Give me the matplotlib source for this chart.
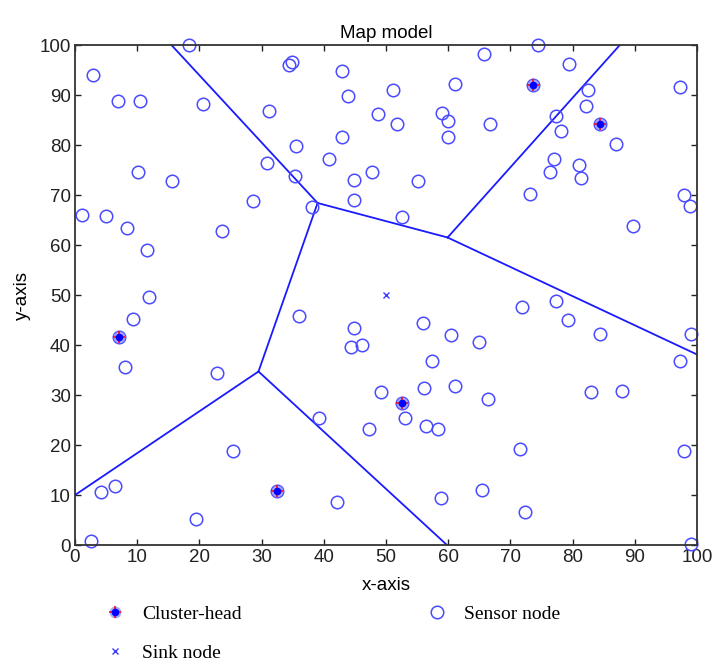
import matplotlib
matplotlib.use("Agg")
import matplotlib.pyplot as plt
from matplotlib import font_manager
from matplotlib.legend_handler import HandlerTuple

# sensor nodes (ordinary)
sensor_x = [2.9, 6.9, 10.5, 18.4, 20.6, 31.2, 34.4, 34.9, 10.1, 15.6, 30.8, 28.6, 1.1, 5.0, 8.4,
            23.6, 11.6, 42.9, 43.9, 51.2, 61.1, 65.7, 48.7, 51.7, 59.0, 60.0, 60.0, 66.7, 35.6, 43.0,
            40.9, 47.7, 44.8, 55.1, 35.4, 44.8, 38.1, 52.6, 74.5, 79.5, 82.5, 82.1, 77.4, 78.1, 86.9,
            97.3, 77.0, 81.1, 76.4, 81.4, 73.1, 97.9, 98.8, 89.7, 11.9, 9.4, 8.0, 22.9, 25.4, 4.1,
            6.4, 19.5, 2.5, 36.0, 44.9, 44.3, 46.2, 55.9, 60.5, 65.0, 57.4, 49.2, 56.1, 61.1, 66.4,
            39.3, 47.3, 53.1, 56.5, 58.4, 42.1, 58.8, 65.5, 71.8, 77.4, 79.3, 84.4, 99.1, 97.3, 83.0,
            88.0, 71.5, 97.9, 72.4, 99.1]
sensor_y = [94.0, 88.9, 88.9, 100.0, 88.3, 86.9, 96.0, 96.7, 74.6, 72.8, 76.4, 68.8, 66.1, 65.8, 63.5,
            62.9, 59.1, 94.9, 89.9, 91.1, 92.2, 98.3, 86.3, 84.3, 86.4, 84.9, 81.7, 84.3, 79.9, 81.7,
            77.3, 74.7, 73.1, 72.9, 73.8, 69.1, 67.6, 65.6, 100.0, 96.3, 91.0, 87.9, 85.8, 82.8, 80.2,
            91.6, 77.2, 76.1, 74.7, 73.5, 70.2, 70.0, 67.9, 63.8, 49.7, 45.3, 35.7, 34.5, 18.9, 10.7,
            11.9, 5.2, 0.8, 45.9, 43.5, 39.7, 40.0, 44.5, 42.1, 40.7, 36.9, 30.7, 31.5, 31.8, 29.3,
            25.4, 23.3, 25.4, 23.9, 23.3, 8.7, 9.5, 11.0, 47.7, 48.8, 45.0, 42.3, 42.3, 36.8, 30.7,
            30.9, 19.2, 18.9, 6.7, 0.3]

# cluster heads
ch_x = [7.0, 32.4, 52.5, 73.6, 84.4]
ch_y = [41.7, 10.9, 28.5, 92.1, 84.3]

# sink
sink_x = [50.0]
sink_y = [50.0]

# voronoi cell boundaries (vertices and edges between them)
vert_x = [15.5, 39.0, 29.5, 0.0, 59.8, 59.9, 87.6, 100.0]
vert_y = [100.0, 68.4, 34.7, 10.0, 0.0, 61.5, 100.0, 38.1]
edges = [(0, 1), (1, 2), (2, 3), (2, 4), (1, 5), (5, 6), (5, 7)]

names = {f.name for f in font_manager.fontManager.ttflist}
if "Liberation Sans Narrow" in names:
    sans = ["Liberation Sans Narrow", "DejaVu Sans"]
    sans_size = 15
else:
    sans = ["Liberation Sans", "DejaVu Sans"]
    sans_size = 13.5
serif = ["Liberation Serif", "DejaVu Serif"]

fig = plt.figure(figsize=(7.12, 6.61), dpi=100)
ax = fig.add_axes([75 / 712, 1 - 545 / 661, 622 / 712, 500 / 661])

for a, b in edges:
    ax.plot([vert_x[a], vert_x[b]], [vert_y[a], vert_y[b]], color="#1a1aff", lw=1.3)

sensor_line, = ax.plot(sensor_x + ch_x, sensor_y + ch_y, "o", mfc="none", mec="#4a4aff",
                       ms=9, mew=1.1, ls="none", clip_on=False)
ch_ring, = ax.plot(ch_x, ch_y, "o", color="#9a9aff", ms=7.5, ls="none", alpha=0.8)
ch_plus, = ax.plot(ch_x, ch_y, "+", color="red", ms=8, mew=1.1, ls="none")
ch_dot, = ax.plot(ch_x, ch_y, "o", color="blue", ms=4.5, ls="none")
sink_line, = ax.plot(sink_x, sink_y, "x", color="#3a3aff", ms=4.5, mew=1.0, ls="none")

ax.set_xlim(0, 100)
ax.set_ylim(0, 100)
ax.set_xticks(range(0, 101, 10))
ax.set_yticks(range(0, 101, 10))
ax.tick_params(direction="in", length=4.5, width=1, top=True, right=True, pad=3,
               labelsize=sans_size, colors="#222222")
for lab in ax.get_xticklabels() + ax.get_yticklabels():
    lab.set_family(sans)
for s in ax.spines.values():
    s.set_linewidth(1.3)
    s.set_color("#333333")

ax.set_title("Map model", family=sans, fontsize=sans_size, pad=5)
ax.set_xlabel("x-axis", family=sans, fontsize=sans_size, labelpad=8)
ax.set_ylabel("y-axis", family=sans, fontsize=sans_size, labelpad=6)

legend_kw = dict(frameon=False, borderpad=0, borderaxespad=0, handlelength=1.0,
                 handletextpad=0.9, prop={"family": serif, "size": 14}, loc="center left")
fig.legend(handles=[(ch_ring, ch_plus, ch_dot)], labels=["Cluster-head"],
           handler_map={tuple: HandlerTuple(ndivide=1)},
           bbox_to_anchor=(105 / 712, 1 - 614 / 661), **legend_kw)
fig.legend(handles=[sink_line], labels=["Sink node"],
           bbox_to_anchor=(105 / 712, 1 - 653 / 661), **legend_kw)
fig.legend(handles=[sensor_line], labels=["Sensor node"],
           bbox_to_anchor=(427 / 712, 1 - 614 / 661), **legend_kw)

fig.savefig("out.png", dpi=100)
